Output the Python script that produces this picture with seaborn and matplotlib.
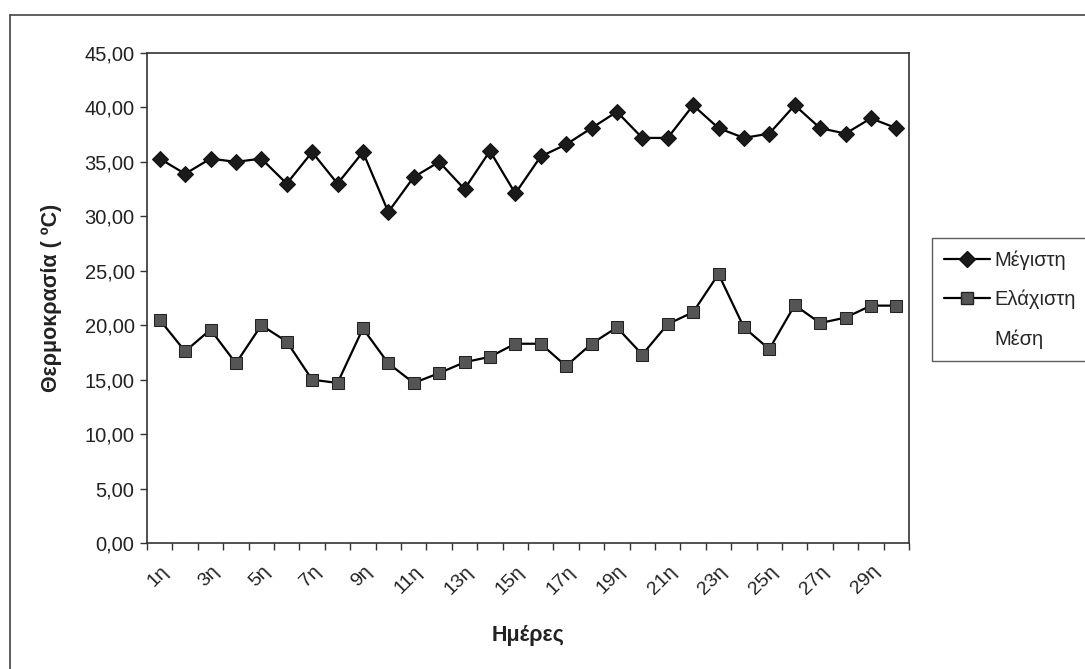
import matplotlib
matplotlib.use("Agg")
import matplotlib.pyplot as plt
import seaborn as sns
import pandas as pd
import numpy as np
from matplotlib.lines import Line2D
from matplotlib.ticker import FuncFormatter, FixedLocator

days = [f"{i}η" for i in range(1, 31)]
max_temp = [35.3, 33.9, 35.3, 35.0, 35.3, 33.0, 35.9, 33.0, 35.9, 30.4,
            33.6, 35.0, 32.5, 36.0, 32.1, 35.5, 36.6, 38.1, 39.6, 37.2,
            37.2, 40.2, 38.1, 37.2, 37.6, 40.2, 38.1, 37.6, 39.0, 38.1]
min_temp = [20.5, 17.6, 19.6, 16.5, 20.0, 18.5, 15.0, 14.7, 19.7, 16.5,
            14.7, 15.6, 16.6, 17.1, 18.3, 18.3, 16.25, 18.3, 19.8, 17.3,
            20.1, 21.2, 24.7, 19.8, 17.8, 21.85, 20.2, 20.7, 21.8, 21.8]
series_names = ["Μέγιστη", "Ελάχιστη", "Μέση"]
y_ticks = [0, 5, 10, 15, 20, 25, 30, 35, 40, 45]

sns.set_theme(style="white")
plt.rcParams['font.family'] = ['Liberation Sans', 'DejaVu Sans']

df = pd.DataFrame({
    "idx": list(range(len(days))) * 2,
    "value": max_temp + min_temp,
    "series": [series_names[0]] * len(days) + [series_names[1]] * len(days),
})

fig = plt.figure(figsize=(10.85, 6.69), dpi=100)
fig.patch.set_facecolor("white")
ax = fig.add_axes([0.1355, 0.1883, 0.7023, 0.7325])
ax.set_facecolor("white")

sns.lineplot(data=df[df.series == series_names[0]], x="idx", y="value", ax=ax,
             color="black", lw=1.6, marker="D", markersize=8,
             markerfacecolor="#1a1a1a", markeredgecolor="#111111", legend=False)
sns.lineplot(data=df[df.series == series_names[1]], x="idx", y="value", ax=ax,
             color="black", lw=1.6, marker="s", markersize=8,
             markerfacecolor="#555555", markeredgecolor="#222222", legend=False)

ax.set_xlim(-0.5, len(days) - 0.5)
ax.set_ylim(0, 45)
ax.set_yticks(y_ticks)
ax.yaxis.set_major_formatter(FuncFormatter(lambda v, p: f"{v:.2f}".replace(".", ",")))
ax.tick_params(axis="y", which="major", length=5, width=1, color="#333333",
               labelsize=14.5, labelcolor="#222222", direction="out", left=True, pad=4)

ax.xaxis.set_major_locator(FixedLocator(list(range(0, len(days), 2))))
ax.set_xticklabels([days[i] for i in range(0, len(days), 2)], rotation=45,
                   ha="right", rotation_mode="anchor", fontsize=14, color="#222222")
ax.xaxis.set_minor_locator(FixedLocator(list(np.arange(-0.5, len(days), 1.0))))
ax.tick_params(axis="x", which="major", length=0, pad=14, bottom=True)
ax.tick_params(axis="x", which="minor", length=5, width=1, color="#333333",
               direction="out", bottom=True)

for s in ax.spines.values():
    s.set_visible(True)
    s.set_color("#333333")
    s.set_linewidth(1.2)

ax.set_xlabel("Ημέρες", fontsize=15.5, fontweight="bold", color="#222222", labelpad=20)
ax.set_ylabel("Θερμοκρασία ( ºC)", fontsize=15.5, fontweight="bold", color="#222222", labelpad=16)

handles = [
    Line2D([], [], color="black", lw=1.6, marker="D", markersize=8,
           markerfacecolor="#1a1a1a", markeredgecolor="#111111"),
    Line2D([], [], color="black", lw=1.6, marker="s", markersize=8,
           markerfacecolor="#555555", markeredgecolor="#222222"),
    Line2D([], [], color="white", lw=1.6),
]
leg = fig.legend(handles, series_names, loc="upper left",
                 bbox_to_anchor=(0.859, 0.644), fontsize=14.5, frameon=True,
                 fancybox=False, edgecolor="#333333", handlelength=2.3,
                 borderpad=0.6, labelspacing=1.0, handletextpad=0.2,
                 borderaxespad=0, alignment="left")
for t in leg.get_texts():
    t.set_horizontalalignment("left")
for col in leg._legend_handle_box.get_children():
    col.align = "left"
leg.get_frame().set_linewidth(1.0)

fig.add_artist(Line2D([10 / 1085, 10 / 1085], [0, 1 - 15 / 669],
                      transform=fig.transFigure, color="#444444", lw=1.2))
fig.add_artist(Line2D([10 / 1085, 1.0], [1 - 15 / 669, 1 - 15 / 669],
                      transform=fig.transFigure, color="#444444", lw=1.2))

fig.savefig("out.png", dpi=100, facecolor="white")
